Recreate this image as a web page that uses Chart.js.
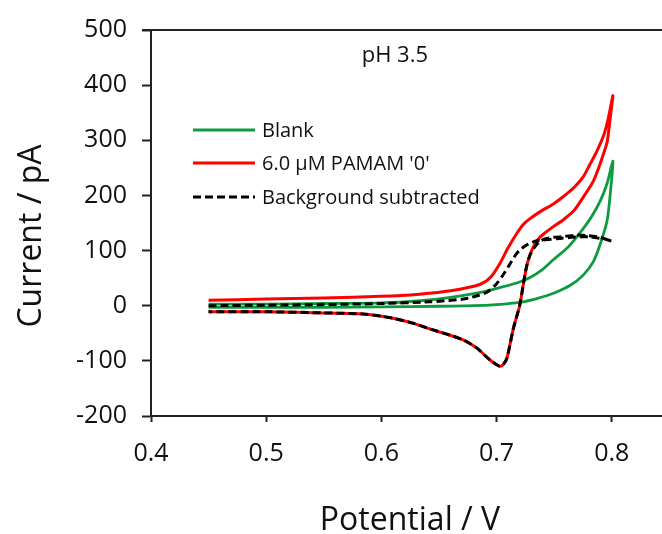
<!DOCTYPE html>
<html>
<head>
<meta charset="utf-8">
<script src="https://cdn.jsdelivr.net/npm/chart.js@4.4.1/dist/chart.umd.min.js"></script>
<style>
  html, body { margin: 0; padding: 0; background: #fff; }
  canvas { display: block; }
</style>
</head>
<body>
<canvas id="cvChart" width="662" height="534"></canvas>
<script>
// series labels
const seriesLabels = ['Blank', "6.0 \u00b5M PAMAM '0'", 'Background subtracted'];
const xTicks = [0.4, 0.5, 0.6, 0.7, 0.8];

// blank: forward scan then reverse scan
const blankV = [0.45, 0.50, 0.55, 0.60, 0.634, 0.66, 0.686, 0.705, 0.72, 0.729, 0.74, 0.749, 0.762, 0.772, 0.782, 0.79, 0.796, 0.801,
                0.799, 0.796, 0.790, 0.784, 0.775, 0.764, 0.75, 0.735, 0.72, 0.70, 0.68, 0.65, 0.60, 0.55, 0.50, 0.45];
const blankI = [3, 3, 4, 5, 9, 15, 24, 34, 43, 51, 66, 83, 106, 131, 160, 190, 222, 262,
                210, 155, 112, 80, 55, 37, 23, 13, 6, 2, 0, -1, -2, -3, -3, -3];

// 6.0 uM PAMAM '0'
const pamamV = [0.45, 0.50, 0.55, 0.60, 0.633, 0.66, 0.686, 0.695, 0.703, 0.71, 0.7175, 0.723, 0.729, 0.739, 0.749, 0.758, 0.767, 0.775, 0.781, 0.787, 0.793, 0.797, 0.801,
                0.798, 0.796, 0.790, 0.784, 0.775, 0.767, 0.758, 0.749, 0.742, 0.737, 0.732, 0.729, 0.726, 0.723, 0.720, 0.7145, 0.709, 0.706, 0.703, 0.700, 0.694, 0.683, 0.671, 0.656, 0.642, 0.628, 0.613, 0.60, 0.584, 0.55, 0.50, 0.45];
const pamamI = [10, 12, 14, 17, 21, 27, 39, 52, 77, 105, 131, 147, 158, 172, 184, 198, 214, 233, 256, 280, 309, 340, 381,
                330, 297, 258, 226, 196, 172, 156, 143, 132, 123, 107, 92, 71, 36, 0, -42, -95, -106, -110, -107, -98, -77, -62, -51, -42, -32, -24, -19, -15, -13, -11, -11];

// background subtracted
const subV = [0.45, 0.50, 0.55, 0.60, 0.642, 0.671, 0.683, 0.692, 0.70, 0.706, 0.712, 0.7175, 0.722, 0.726, 0.731, 0.735, 0.745, 0.755, 0.765, 0.772, 0.78, 0.787, 0.794, 0.80,
              0.79, 0.78, 0.77, 0.76, 0.75, 0.742, 0.737, 0.733, 0.729, 0.726, 0.723, 0.720, 0.7145, 0.709, 0.706, 0.703, 0.700, 0.694, 0.683, 0.671, 0.656, 0.642, 0.628, 0.613, 0.60, 0.584, 0.55, 0.50, 0.45];
const subI = [0, 1, 2, 4, 7, 12, 18, 25, 40, 57, 77, 95, 104, 110, 115, 118, 120, 122, 124, 125, 125, 123, 121, 117,
              124, 127, 128, 126, 124, 121, 116, 106, 92, 71, 36, 0, -42, -95, -106, -110, -107, -98, -77, -62, -51, -42, -32, -24, -19, -15, -13, -11, -11];

function toPoints(xs, ys) {
    return xs.map((x, i) => ({ x: x, y: ys[i] }));
}

const FONT = '"Open Sans", "Liberation Sans", sans-serif';

// axis titles, note, top border and the legend drawn by hand
const extras = {
    id: 'extras',
    afterDraw(chart) {
        const ctx = chart.ctx;
        const area = chart.chartArea;
        ctx.save();
        // top border
        ctx.strokeStyle = '#222';
        ctx.lineWidth = 2;
        ctx.beginPath();
        ctx.moveTo(area.left - 9, area.top);
        ctx.lineTo(area.right, area.top);
        ctx.stroke();

        ctx.fillStyle = '#111';
        ctx.font = '32px ' + FONT;
        ctx.textAlign = 'center';
        ctx.textBaseline = 'alphabetic';
        ctx.fillText('Potential / V', 410, 530);

        ctx.save();
        ctx.translate(41, 236);
        ctx.rotate(-Math.PI / 2);
        ctx.fillText('Current / pA', 0, 0);
        ctx.restore();

        ctx.font = '22px ' + FONT;
        ctx.textAlign = 'right';
        ctx.fillText('pH 3.5', 428, 62);

        // legend
        const rows = [130, 163, 197];
        ctx.font = '20px ' + FONT;
        chart.data.datasets.forEach((ds, i) => {
            ctx.strokeStyle = ds.borderColor;
            ctx.lineWidth = ds.borderWidth;
            ctx.setLineDash(ds.borderDash || []);
            ctx.beginPath();
            ctx.moveTo(193, rows[i]);
            ctx.lineTo(255, rows[i]);
            ctx.stroke();
            ctx.setLineDash([]);
            ctx.fillStyle = '#111';
            ctx.textAlign = 'left';
            ctx.textBaseline = 'middle';
            ctx.fillText(ds.label, 262, rows[i] + 1);
        });
        ctx.restore();
    }
};

const ctx = document.getElementById('cvChart').getContext('2d');
const cvChart = new Chart(ctx, {
    type: 'scatter',
    data: {
        datasets: [
            {
                label: seriesLabels[0],
                data: toPoints(blankV, blankI),
                showLine: true,
                borderColor: '#0E9A3E',
                borderWidth: 2.8,
                pointRadius: 0,
                tension: 0.25,
                order: 2
            },
            {
                label: seriesLabels[1],
                data: toPoints(pamamV, pamamI),
                showLine: true,
                borderColor: '#FF0000',
                borderWidth: 3,
                pointRadius: 0,
                tension: 0.25,
                order: 1
            },
            {
                label: seriesLabels[2],
                data: toPoints(subV, subI),
                showLine: true,
                borderColor: '#000000',
                borderWidth: 3,
                borderDash: [8, 4],
                pointRadius: 0,
                tension: 0.25,
                order: 0
            }
        ]
    },
    options: {
        responsive: false,
        animation: false,
        devicePixelRatio: 1,
        layout: { padding: { top: 24, right: 0, bottom: 0, left: 0 } },
        plugins: {
            legend: { display: false },
            tooltip: { enabled: false }
        },
        scales: {
            x: {
                type: 'linear',
                min: 0.4,
                max: 0.8436,
                afterBuildTicks: (scale) => {
                    scale.ticks = xTicks.map(v => ({ value: v }));
                },
                afterFit: (scale) => { scale.height = 118; },
                grid: { display: true, drawOnChartArea: false, drawTicks: true, tickLength: 6, tickColor: '#222', tickWidth: 2 },
                border: { display: true, color: '#222', width: 2 },
                ticks: {
                    color: '#111',
                    font: { family: FONT, size: 25 },
                    padding: 17,
                    maxRotation: 0,
                    callback: (v) => v.toFixed(1)
                }
            },
            y: {
                type: 'linear',
                min: -200,
                max: 500,
                afterFit: (scale) => { scale.width = 151; },
                grid: { display: true, drawOnChartArea: false, drawTicks: true, tickLength: 9, tickColor: '#222', tickWidth: 2 },
                border: { display: true, color: '#222', width: 2 },
                ticks: {
                    stepSize: 100,
                    color: '#111',
                    font: { family: FONT, size: 25 },
                    padding: 15
                }
            }
        }
    },
    plugins: [extras]
});
</script>
</body>
</html>
